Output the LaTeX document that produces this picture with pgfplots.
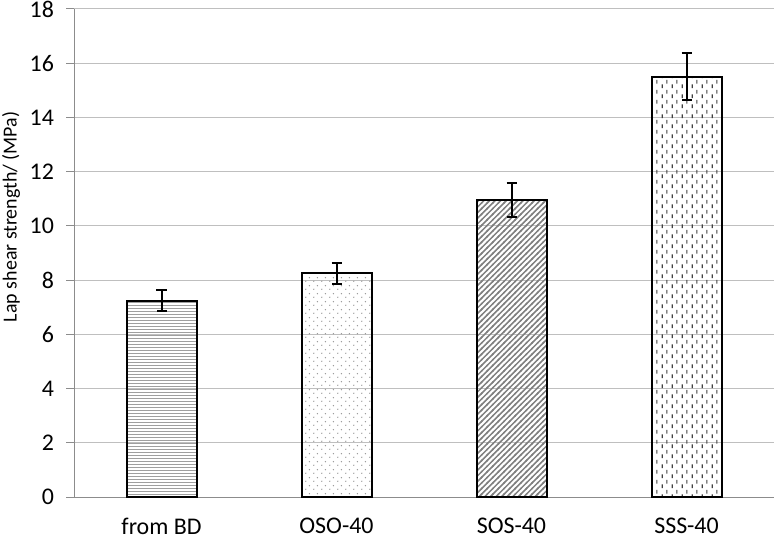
\documentclass[border=0pt]{standalone}
\usepackage{pgfplots}
\pgfplotsset{compat=1.18}
\usepackage{fontspec}
\setmainfont{Carlito}
\usetikzlibrary{patterns}

% fill patterns of the four bars
\pgfdeclarepatternformonly{hl}{\pgfpointorigin}{\pgfpoint{1.7bp}{1.7bp}}{\pgfpoint{1.7bp}{1.7bp}}{%
  \pgfsetlinewidth{0.5bp}%
  \pgfpathmoveto{\pgfpoint{-0.1bp}{0.85bp}}\pgfpathlineto{\pgfpoint{1.8bp}{0.85bp}}\pgfusepath{stroke}}
\pgfdeclarepatternformonly{sdots}{\pgfpointorigin}{\pgfpoint{4bp}{4bp}}{\pgfpoint{4bp}{4bp}}{%
  \pgfpathcircle{\pgfpoint{1bp}{1bp}}{0.4bp}%
  \pgfpathcircle{\pgfpoint{3bp}{3bp}}{0.4bp}\pgfusepath{fill}}
\pgfdeclarepatternformonly{diag}{\pgfpoint{-0.5bp}{-0.5bp}}{\pgfpoint{3.3bp}{3.3bp}}{\pgfpoint{2.8bp}{2.8bp}}{%
  \pgfsetlinewidth{0.75bp}%
  \pgfpathmoveto{\pgfpoint{-0.5bp}{-0.5bp}}\pgfpathlineto{\pgfpoint{3.3bp}{3.3bp}}\pgfusepath{stroke}}
\pgfdeclarepatternformonly{vdash}{\pgfpointorigin}{\pgfpoint{5bp}{5bp}}{\pgfpoint{5bp}{5bp}}{%
  \pgfsetlinewidth{0.6bp}%
  \pgfpathmoveto{\pgfpoint{1.25bp}{0.5bp}}\pgfpathlineto{\pgfpoint{1.25bp}{2.5bp}}%
  \pgfpathmoveto{\pgfpoint{3.75bp}{3bp}}\pgfpathlineto{\pgfpoint{3.75bp}{5bp}}\pgfusepath{stroke}}

\definecolor{gridgray}{RGB}{191,191,191}
\definecolor{axisgray}{RGB}{140,140,140}

\begin{document}
\begin{tikzpicture}
\begin{axis}[
  scale only axis, width=350bp, height=244bp,
  font=\fontsize{12}{14}\selectfont,
  xmin=-0.5, xmax=3.5, ymin=0, ymax=18,
  ytick={0,2,...,18},
  xtick={0,1,2,3},
  xticklabels={from BD,OSO-40,SOS-40,SSS-40},
  major x tick style={draw=none},
  extra x ticks={-0.5,0.5,1.5,2.5,3.5},
  extra x tick labels={},
  extra x tick style={tick style={draw=axisgray, line width=0.5bp}, major tick length=4bp, grid=none},
  ymajorgrids, grid style={gridgray, line width=0.5bp},
  axis x line*=bottom, axis y line*=left,
  axis line style={axisgray, line width=0.5bp, -},
  tick align=outside, major tick length=4bp,
  ytick style={axisgray, line width=0.5bp},
  tick label style={black},
  xticklabel style={yshift=-3bp},
  yticklabel style={xshift=-2.5bp},
  ylabel={Lap shear strength/ (MPa)},
  ylabel style={font=\fontsize{10}{12}\selectfont, at={(axis description cs:-0.09,0.574)}, anchor=center},
  /pgf/number format/assume math mode=true,
  bar width=35bp,
  clip=false,
]
\addplot[ybar, draw=black, line width=1bp, pattern=hl, pattern color=gray!75,
  error bars/.cd, y dir=both, y explicit,
  error bar style={black, line width=1bp},
  error mark options={black, rotate=90, mark size=2.5bp, line width=1bp}]
  coordinates {(0,7.24) +- (0,0.39)};
\addplot[ybar, draw=black, line width=1bp, pattern=sdots, pattern color=gray!85,
  error bars/.cd, y dir=both, y explicit,
  error bar style={black, line width=1bp},
  error mark options={black, rotate=90, mark size=2.5bp, line width=1bp}]
  coordinates {(1,8.25) +- (0,0.38)};
\addplot[ybar, draw=black, line width=1bp, pattern=diag, pattern color=black!50,
  error bars/.cd, y dir=both, y explicit,
  error bar style={black, line width=1bp},
  error mark options={black, rotate=90, mark size=2.5bp, line width=1bp}]
  coordinates {(2,10.96) +- (0,0.62)};
\addplot[ybar, draw=black, line width=1bp, pattern=vdash, pattern color=black!75,
  error bars/.cd, y dir=both, y explicit,
  error bar style={black, line width=1bp},
  error mark options={black, rotate=90, mark size=2.5bp, line width=1bp}]
  coordinates {(3,15.51) +- (0,0.87)};
\end{axis}
\pgfresetboundingbox
\path (current axis.south west) ++(-37bp,-21bp) rectangle ([yshift=4.5bp]current axis.north east);
\end{tikzpicture}
\end{document}
